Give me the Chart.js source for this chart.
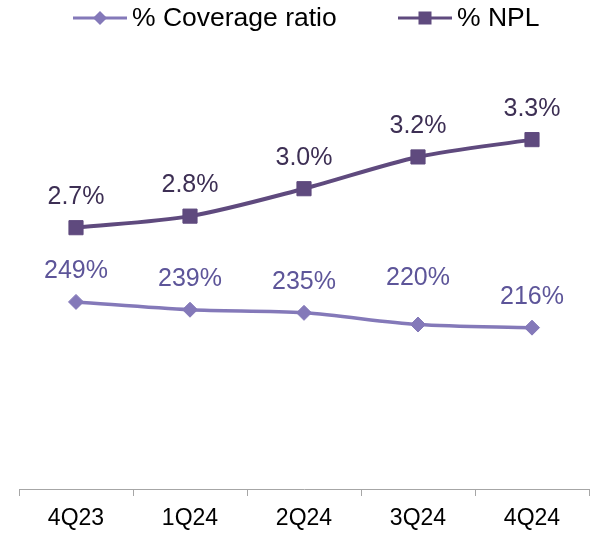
<!DOCTYPE html>
<html>
<head>
<meta charset="utf-8">
<script src="https://cdn.jsdelivr.net/npm/chart.js@4.4.1/dist/chart.umd.min.js"></script>
<style>
  html, body { margin: 0; padding: 0; background: #fff; overflow: hidden; }
  canvas { display: block; }
</style>
</head>
<body>
<canvas id="npl" width="592" height="535"></canvas>
<script>
// data
const quarters = ['4Q23', '1Q24', '2Q24', '3Q24', '4Q24'];
const coverageRatio = [249, 239, 235, 220, 216];
const nplRatio = [2.70, 2.78, 2.97, 3.19, 3.31];

const FONT = "'Liberation Sans', Arial, sans-serif";
const COVER_LINE = '#8479b9';
const COVER_TEXT = '#5d5599';
const NPL_LINE = '#5f4a7e';
const NPL_TEXT = '#3d2f54';

// labels above each point
const pointLabels = {
    id: 'pointLabels',
    afterDatasetsDraw(chart) {
        const c = chart.ctx;
        c.save();
        c.font = '25px ' + FONT;
        c.textAlign = 'center';
        c.textBaseline = 'middle';
        chart.data.datasets.forEach((ds, i) => {
            const meta = chart.getDatasetMeta(i);
            c.fillStyle = ds.labelColor;
            meta.data.forEach((pt, j) => {
                const shift = (ds.labelShift && ds.labelShift[j]) || 0;
                c.fillText(ds.format(ds.data[j]), pt.x, pt.y - 31 - shift);
            });
        });
        c.restore();
    }
};

// legend: line with marker then text
const lineLegend = {
    id: 'lineLegend',
    afterDraw(chart) {
        const c = chart.ctx;
        const items = [{ x: 73, ds: chart.data.datasets[0] }, { x: 398, ds: chart.data.datasets[1] }];
        const y = 18;
        c.save();
        c.font = '26.5px ' + FONT;
        c.textBaseline = 'middle';
        items.forEach(it => {
            c.strokeStyle = it.ds.borderColor;
            c.fillStyle = it.ds.borderColor;
            c.lineWidth = 3;
            c.beginPath();
            c.moveTo(it.x, y);
            c.lineTo(it.x + 54, y);
            c.stroke();
            const mx = it.x + 27;
            if (it.ds.pointStyle === 'rectRot') {
                c.beginPath();
                c.moveTo(mx - 7, y); c.lineTo(mx, y - 7); c.lineTo(mx + 7, y); c.lineTo(mx, y + 7);
                c.closePath();
                c.fill();
            } else {
                c.fillRect(mx - 6.5, y - 6.5, 13, 13);
            }
            c.fillStyle = '#000';
            c.fillText(it.ds.label, it.x + 59, y + 1);
        });
        c.restore();
    }
};

new Chart(document.getElementById('npl'), {
    type: 'line',
    data: {
        labels: quarters,
        datasets: [{
            label: '% Coverage ratio',
            data: coverageRatio,
            yAxisID: 'yCov',
            borderColor: COVER_LINE,
            backgroundColor: COVER_LINE,
            borderWidth: 3.5,
            pointStyle: 'rectRot',
            pointRadius: 7.5,
            pointBorderWidth: 1,
            tension: 0.3,
            labelColor: COVER_TEXT,
            labelShift: [0, 0, 0, 15, 0],
            format: v => Math.round(v) + '%'
        }, {
            label: '% NPL',
            data: nplRatio,
            yAxisID: 'yNpl',
            borderColor: NPL_LINE,
            backgroundColor: NPL_LINE,
            borderWidth: 4,
            pointStyle: 'rect',
            pointRadius: 10,
            pointBorderWidth: 1,
            tension: 0.3,
            labelColor: NPL_TEXT,
            format: v => v.toFixed(1) + '%'
        }]
    },
    options: {
        responsive: false,
        animation: false,
        layout: { autoPadding: false, padding: { top: 40, left: 19, right: 3, bottom: 0 } },
        plugins: {
            legend: { display: false },
            tooltip: { enabled: false }
        },
        scales: {
            x: {
                offset: true,
                afterFit: scale => { scale.height = 46; },
                grid: { offset: true, drawOnChartArea: false, tickLength: 7, color: '#a6a6a6' },
                border: { display: true, color: '#a6a6a6', width: 1 },
                ticks: { color: '#000', padding: 13, font: { family: FONT, size: 23, lineHeight: 0.8 } }
            },
            yCov: { display: false, min: 9, max: 585 },
            yNpl: { display: false, min: 0.89, max: 4.0 }
        }
    },
    plugins: [pointLabels, lineLegend]
});
</script>
</body>
</html>
